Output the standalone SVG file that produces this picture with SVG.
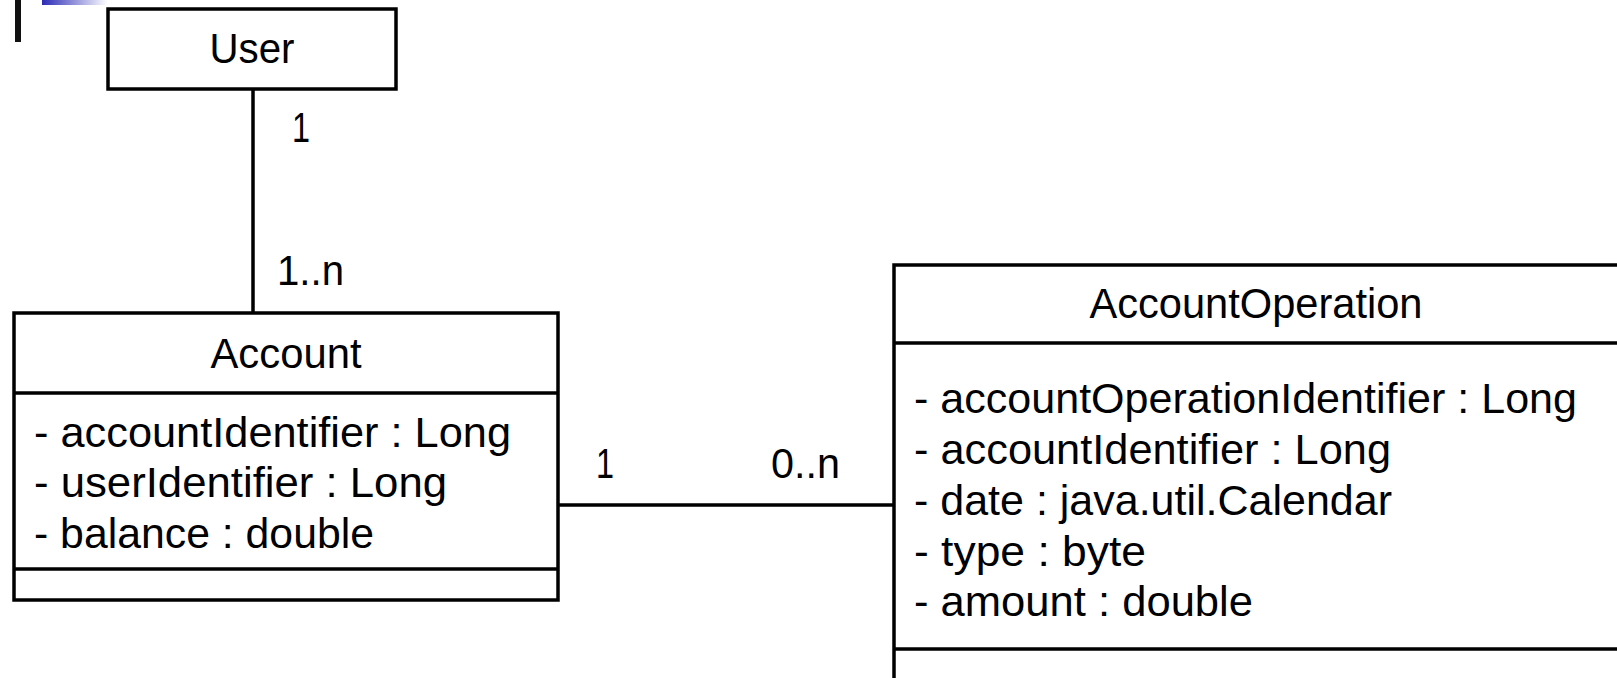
<svg xmlns="http://www.w3.org/2000/svg" width="1617" height="678" viewBox="0 0 1617 678">
<style>
.box{fill:#fff;stroke:#000;stroke-width:3.5}
.ln{stroke:#000;stroke-width:3.5;fill:none}
text{font-family:"Liberation Sans",Arial,sans-serif;font-size:43px;fill:#000}
.c{text-anchor:middle}
</style>
<defs>
<linearGradient id="g" x1="0" x2="1" y1="0" y2="0">
<stop offset="0" stop-color="#2b2bb5"/>
<stop offset="1" stop-color="#ffffff"/>
</linearGradient>
</defs>
<rect width="1617" height="678" fill="#fff"/>
<rect x="15" y="0" width="6" height="42" fill="#111"/>
<rect x="42" y="0" width="66" height="5" fill="url(#g)"/>
<g id="connectors">
<line class="ln" x1="253" y1="89" x2="253" y2="313"/>
<line class="ln" x1="558" y1="505" x2="894" y2="505"/>
<text x="292" y="142" textLength="18" lengthAdjust="spacingAndGlyphs">1</text>
<text x="277" y="285" textLength="67" lengthAdjust="spacingAndGlyphs">1..n</text>
<text x="596" y="478" textLength="18" lengthAdjust="spacingAndGlyphs">1</text>
<text x="771" y="478" textLength="69" lengthAdjust="spacingAndGlyphs">0..n</text>
</g>
<g id="User">
<rect class="box" x="108" y="9" width="288" height="80"/>
<text class="c" x="252" y="63" textLength="85" lengthAdjust="spacingAndGlyphs">User</text>
</g>
<g id="Account">
<rect class="box" x="14" y="313" width="544" height="287"/>
<line class="ln" x1="14" y1="393" x2="558" y2="393"/>
<line class="ln" x1="14" y1="569" x2="558" y2="569"/>
<text class="c" x="286" y="368" textLength="151" lengthAdjust="spacingAndGlyphs">Account</text>
<text x="34" y="447" textLength="477" lengthAdjust="spacingAndGlyphs">- accountIdentifier : Long</text>
<text x="34" y="497" textLength="413" lengthAdjust="spacingAndGlyphs">- userIdentifier : Long</text>
<text x="34" y="548" textLength="340" lengthAdjust="spacingAndGlyphs">- balance : double</text>
</g>
<g id="AccountOperation">
<rect class="box" x="894" y="265" width="730" height="430"/>
<line class="ln" x1="894" y1="343" x2="1624" y2="343"/>
<line class="ln" x1="894" y1="649" x2="1624" y2="649"/>
<text class="c" x="1256" y="318" textLength="333" lengthAdjust="spacingAndGlyphs">AccountOperation</text>
<text x="914" y="413" textLength="663" lengthAdjust="spacingAndGlyphs">- accountOperationIdentifier : Long</text>
<text x="914" y="464" textLength="477" lengthAdjust="spacingAndGlyphs">- accountIdentifier : Long</text>
<text x="914" y="515" textLength="478" lengthAdjust="spacingAndGlyphs">- date : java.util.Calendar</text>
<text x="914" y="566" textLength="232" lengthAdjust="spacingAndGlyphs">- type : byte</text>
<text x="914" y="616" textLength="339" lengthAdjust="spacingAndGlyphs">- amount : double</text>
</g>
</svg>
